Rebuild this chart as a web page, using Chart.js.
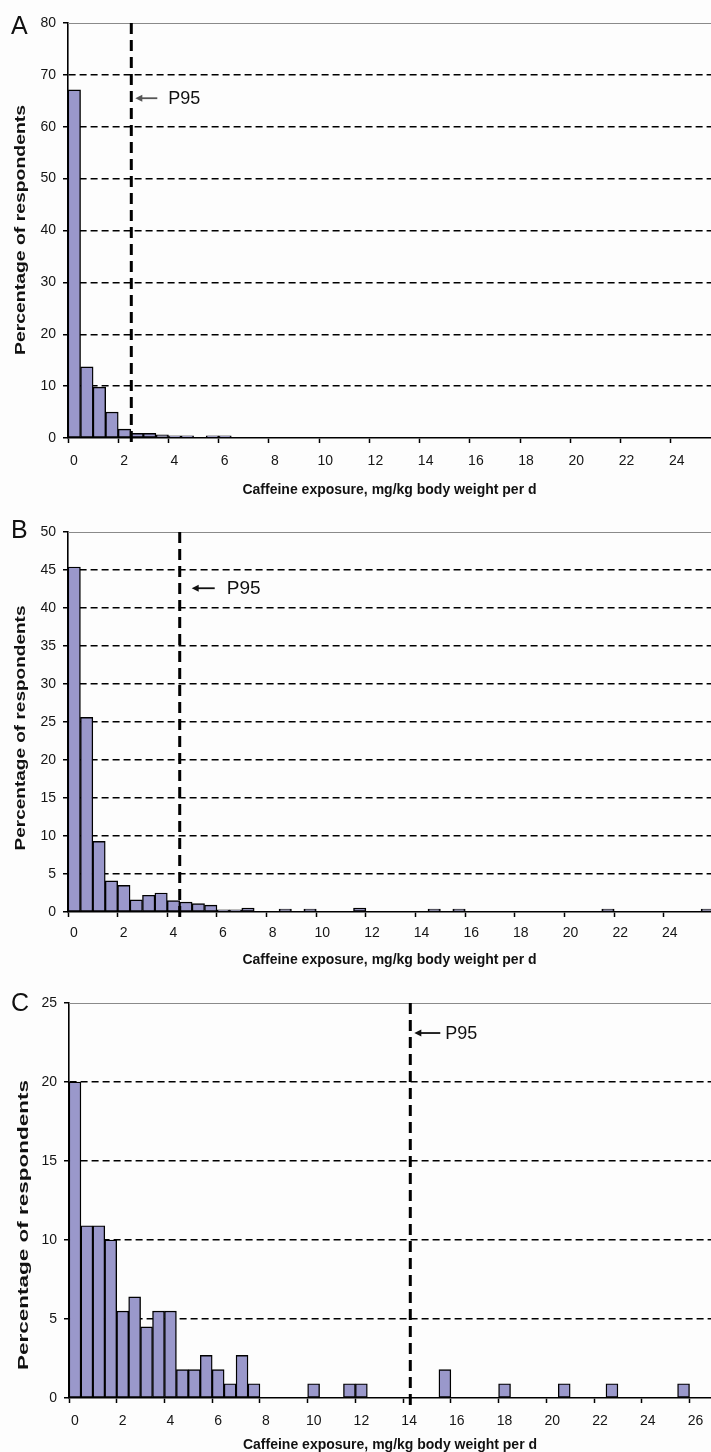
<!DOCTYPE html>
<html>
<head>
<meta charset="utf-8">
<title>Caffeine exposure histograms</title>
<script src="https://cdn.jsdelivr.net/npm/chart.js@4.4.1/dist/chart.umd.min.js"></script>
<style>
    html, body { margin: 0; padding: 0; background: #fdfdfd; }
    body { position: relative; width: 711px; height: 1452px; overflow: hidden; font-family: "Liberation Sans", Arial, sans-serif; }
    .panel { position: absolute; left: 0; width: 711px; }
    .panel canvas { display: block; }
    .letter { position: absolute; left: 11px; font-size: 25px; line-height: 1; color: #111; }
</style>
</head>
<body>
<div class="panel" style="top:0;height:500px"><canvas id="chartA" width="711" height="500"></canvas></div>
<div class="panel" style="top:500px;height:475px"><canvas id="chartB" width="711" height="475"></canvas></div>
<div class="panel" style="top:975px;height:477px"><canvas id="chartC" width="711" height="477"></canvas></div>
<div class="letter" style="top:13px">A</div>
<div class="letter" style="top:517px">B</div>
<div class="letter" style="top:990px">C</div>

<script>
// Histogram bins are 0.5 mg/kg wide; each list holds the lower edge of a non-empty bin.
const BIN_WIDTH = 0.5;

// Panel A
const binsA = [0, 0.5, 1, 1.5, 2, 2.5, 3, 3.5, 4, 4.5, 5.5, 6];
const valuesA = [67.1, 13.7, 9.8, 5.0, 1.7, 0.9, 0.9, 0.6, 0.4, 0.4, 0.4, 0.4];
const p95A = 2.52;

// Panel B
const binsB = [0, 0.5, 1, 1.5, 2, 2.5, 3, 3.5, 4, 4.5, 5, 5.5, 6, 6.5, 7, 8.5, 9.5, 11.5, 14.5, 15.5, 21.5, 25.5];
const valuesB = [45.4, 25.6, 9.3, 4.1, 3.5, 1.6, 2.2, 2.5, 1.5, 1.3, 1.1, 0.9, 0.3, 0.3, 0.5, 0.4, 0.4, 0.5, 0.4, 0.4, 0.4, 0.4];
const p95B = 4.5;

// Panel C
const binsC = [0, 0.5, 1, 1.5, 2, 2.5, 3, 3.5, 4, 4.5, 5, 5.5, 6, 6.5, 7, 7.5, 10, 11.5, 12, 15.5, 18, 20.5, 22.5, 25.5];
const valuesC = [20.0, 10.9, 10.9, 10.0, 5.5, 6.4, 4.5, 5.5, 5.5, 1.8, 1.8, 2.7, 1.8, 0.9, 2.7, 0.9, 0.9, 0.9, 0.9, 1.8, 0.9, 0.9, 0.9, 0.9];
const p95C = 14.3;

const xTitle = 'Caffeine exposure, mg/kg body weight per d';
const yTitle = 'Percentage of respondents';

const FONT = '"Liberation Sans", Arial, sans-serif';
Chart.defaults.font.family = FONT;
Chart.defaults.color = '#151515';

// Grey top frame, dashed P95 marker with its arrow, and the (stretched) y axis title.
const p95Plugin = {
    id: 'p95',
    beforeDatasetsDraw(chart) {
        const { ctx, chartArea } = chart;
        ctx.save();
        ctx.strokeStyle = '#8a8a8a';
        ctx.lineWidth = 1.2;
        ctx.beginPath();
        ctx.moveTo(chartArea.left, chartArea.top + 0.5);
        ctx.lineTo(chartArea.right, chartArea.top + 0.5);
        ctx.stroke();
        ctx.restore();
    },
    afterDatasetsDraw(chart, args, opts) {
        const { ctx, chartArea } = chart;
        const x = chart.scales.x.getPixelForValue(opts.value);
        const y = chart.scales.y.getPixelForValue(opts.labelAt);
        ctx.save();
        ctx.strokeStyle = '#000';
        ctx.lineWidth = 3;
        ctx.setLineDash([11, 6]);
        ctx.beginPath();
        ctx.moveTo(x, chartArea.top);
        ctx.lineTo(x, chartArea.bottom + 10);
        ctx.stroke();

        // arrow pointing back at the line
        ctx.setLineDash([]);
        ctx.strokeStyle = opts.arrowColor;
        ctx.fillStyle = opts.arrowColor;
        ctx.lineWidth = 1.8;
        const tip = x + opts.arrowTip;
        ctx.beginPath();
        ctx.moveTo(x + opts.arrowTail, y);
        ctx.lineTo(tip + 4, y);
        ctx.stroke();
        ctx.beginPath();
        ctx.moveTo(tip, y);
        ctx.lineTo(tip + 7, y - 3.5);
        ctx.lineTo(tip + 7, y + 3.5);
        ctx.closePath();
        ctx.fill();

        ctx.fillStyle = '#111';
        ctx.font = opts.fontSize + 'px ' + FONT;
        ctx.textAlign = 'left';
        ctx.textBaseline = 'middle';
        ctx.fillText('P95', x + opts.textAt, y + 1);
        ctx.restore();

        // y title, stretched along its length like in the printed figure
        const t = opts.yTitle;
        ctx.save();
        ctx.translate(t.x, t.y);
        ctx.rotate(-Math.PI / 2);
        ctx.font = 'bold ' + t.size + 'px ' + FONT;
        const w = ctx.measureText(yTitle).width;
        ctx.scale(t.length / w, 1);
        ctx.fillStyle = '#111';
        ctx.textAlign = 'center';
        ctx.textBaseline = 'middle';
        ctx.fillText(yTitle, 0, 0);
        ctx.restore();
    }
};

// Builds one histogram panel.
function makeHistogram(id, cfg) {
    const canvas = document.getElementById(id);
    const points = cfg.bins.map((b, i) => ({ x: b + BIN_WIDTH / 2, y: cfg.values[i] }));
    const yMax = cfg.yMax;

    return new Chart(canvas, {
        type: 'bar',
        plugins: [p95Plugin],
        data: {
            datasets: [{
                data: points,
                backgroundColor: '#9a98cb',
                borderColor: '#000',
                borderWidth: 1.4,
                borderSkipped: false,
                barPercentage: 1,
                categoryPercentage: 1
            }]
        },
        options: {
            responsive: false,
            animation: false,
            devicePixelRatio: 1,
            layout: { padding: { top: cfg.top, left: 0, right: 0, bottom: 0 } },
            plugins: {
                legend: { display: false },
                tooltip: { enabled: false },
                p95: cfg.p95
            },
            scales: {
                x: {
                    type: 'linear',
                    min: 0,
                    max: cfg.xMax,
                    offset: false,
                    afterFit: s => { s.height = canvas.height - cfg.bottom; },
                    grid: {
                        offset: false,
                        drawOnChartArea: false,
                        drawTicks: true,
                        tickLength: 5,
                        tickColor: '#000',
                        tickWidth: 1.5
                    },
                    border: { display: true, color: '#000', width: 1.6 },
                    ticks: {
                        stepSize: 2,
                        includeBounds: false,
                        autoSkip: false,
                        maxRotation: 0,
                        labelOffset: 6,
                        padding: cfg.xTickPad,
                        font: { size: 14 }
                    },
                    title: {
                        display: true,
                        text: xTitle,
                        color: '#111',
                        font: { size: 14, weight: 'bold', lineHeight: 1 },
                        padding: { top: 0, bottom: cfg.xTitlePad }
                    }
                },
                y: {
                    min: 0,
                    max: yMax,
                    afterFit: s => { s.width = cfg.left; },
                    grid: {
                        color: c => (c.tick && (c.tick.value === 0 || c.tick.value === yMax)) ? 'rgba(0,0,0,0)' : '#000',
                        lineWidth: 1.5,
                        drawTicks: true,
                        tickLength: 5,
                        tickColor: '#000',
                        tickWidth: 1.5,
                        tickBorderDash: []
                    },
                    border: { display: true, color: '#000', width: 1.6, dash: [7, 4] },
                    ticks: {
                        stepSize: cfg.yStep,
                        padding: 7,
                        font: { size: 14 }
                    },
                    title: { display: false }
                }
            }
        }
    });
}

makeHistogram('chartA', {
    bins: binsA, values: valuesA,
    xMax: 25.6, yMax: 80, yStep: 10,
    top: 23, bottom: 438, left: 68,
    xTickPad: 10, xTitlePad: 3,
    p95: {
        value: p95A, labelAt: 65.5, arrowTip: 4, arrowTail: 26, textAt: 37, fontSize: 18, arrowColor: '#555',
        yTitle: { x: 21, y: 230, size: 14, length: 250 }
    }
});

makeHistogram('chartB', {
    bins: binsB, values: valuesB,
    xMax: 25.9, yMax: 50, yStep: 5,
    top: 32, bottom: 412, left: 68,
    xTickPad: 8, xTitlePad: 8,
    p95: {
        value: p95B, labelAt: 42.6, arrowTip: 12, arrowTail: 35, textAt: 47, fontSize: 19, arrowColor: '#111',
        yTitle: { x: 21, y: 228, size: 14, length: 245 }
    }
});

makeHistogram('chartC', {
    bins: binsC, values: valuesC,
    xMax: 26.9, yMax: 25, yStep: 5,
    top: 28, bottom: 423, left: 69,
    xTickPad: 10, xTitlePad: 0,
    p95: {
        value: p95C, labelAt: 23.1, arrowTip: 4, arrowTail: 30, textAt: 35, fontSize: 18, arrowColor: '#111',
        yTitle: { x: 24, y: 250, size: 15, length: 290 }
    }
});
</script>
</body>
</html>
